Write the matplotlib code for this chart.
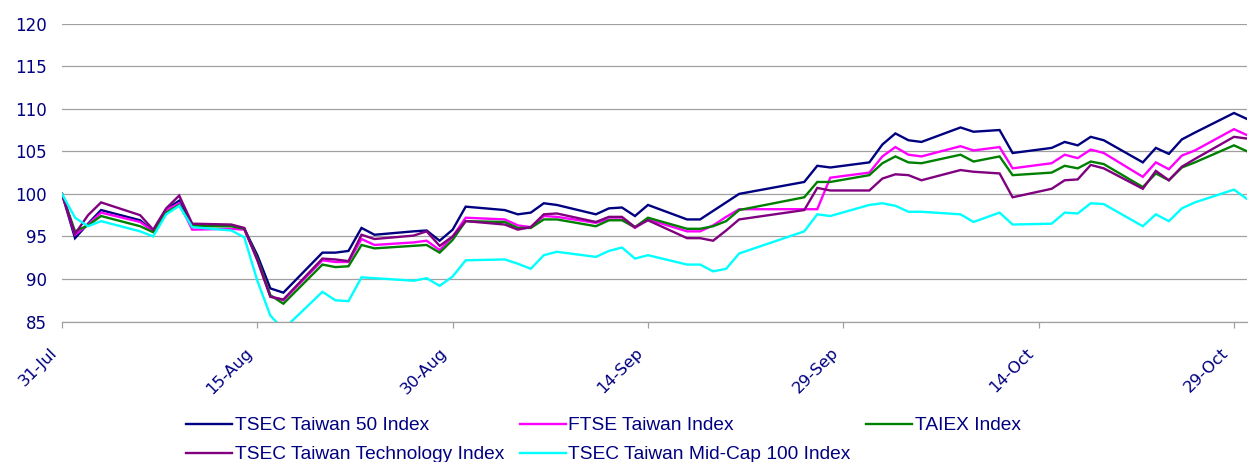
import numpy as np
import pandas as pd
import matplotlib
matplotlib.use("Agg")
import matplotlib.pyplot as plt
import matplotlib.dates as mdates
from matplotlib.transforms import ScaledTranslation

# trading days (2007)
dates = pd.to_datetime([
    "2007-07-31",
    "2007-08-01", "2007-08-02", "2007-08-03", "2007-08-06", "2007-08-07", "2007-08-08",
    "2007-08-09", "2007-08-10", "2007-08-13", "2007-08-14", "2007-08-15", "2007-08-16",
    "2007-08-17", "2007-08-20", "2007-08-21", "2007-08-22", "2007-08-23", "2007-08-24",
    "2007-08-27", "2007-08-28", "2007-08-29", "2007-08-30", "2007-08-31",
    "2007-09-03", "2007-09-04", "2007-09-05", "2007-09-06", "2007-09-07", "2007-09-10",
    "2007-09-11", "2007-09-12", "2007-09-13", "2007-09-14", "2007-09-17", "2007-09-18",
    "2007-09-19", "2007-09-20", "2007-09-21", "2007-09-26", "2007-09-27", "2007-09-28",
    "2007-10-01", "2007-10-02", "2007-10-03", "2007-10-04", "2007-10-05", "2007-10-08",
    "2007-10-09", "2007-10-11", "2007-10-12", "2007-10-15", "2007-10-16", "2007-10-17",
    "2007-10-18", "2007-10-19", "2007-10-22", "2007-10-23", "2007-10-24", "2007-10-25",
    "2007-10-26", "2007-10-29", "2007-10-30",
])

tsec50 = [
    100.0,
    94.8, 96.5, 98.1, 96.9, 95.6, 98.2, 99.2, 96.4, 96.3, 95.9, 92.8, 88.9,
    88.4, 93.1, 93.1, 93.3, 96.0, 95.2, 95.6, 95.7, 94.5, 95.8, 98.5,
    98.1, 97.6, 97.8, 98.9, 98.7, 97.6, 98.3, 98.4, 97.4, 98.7, 97.0, 97.0,
    98.0, 99.0, 100.0, 101.4, 103.3, 103.1,
    103.7, 105.8, 107.1, 106.3, 106.1, 107.8, 107.3, 107.5, 104.8, 105.4, 106.1, 105.7,
    106.7, 106.3, 103.7, 105.4, 104.7, 106.4, 107.2, 109.5, 108.8,
]
ftse = [
    100.0,
    95.2, 96.4, 97.8, 96.7, 95.6, 98.1, 98.9, 95.8, 95.9, 95.8, 92.3, 88.0,
    87.5, 92.2, 92.0, 92.0, 94.7, 94.0, 94.3, 94.5, 93.4, 95.0, 97.2,
    97.0, 96.3, 96.1, 97.4, 97.3, 96.6, 97.0, 97.0, 96.0, 97.0, 95.6, 95.6,
    96.3, 97.3, 98.2, 98.2, 98.2, 101.9,
    102.5, 104.4, 105.5, 104.6, 104.4, 105.6, 105.1, 105.5, 103.0, 103.6, 104.6, 104.2,
    105.2, 104.8, 102.0, 103.7, 102.9, 104.5, 105.1, 107.6, 106.9,
]
taiex = [
    100.0,
    95.6, 96.3, 97.4, 96.2, 95.5, 97.8, 98.7, 96.2, 96.2, 95.9, 92.4, 88.1,
    87.1, 91.7, 91.4, 91.5, 94.0, 93.6, 93.9, 94.0, 93.1, 94.6, 96.8,
    96.7, 96.0, 96.0, 97.0, 97.0, 96.2, 96.9, 96.9, 96.1, 97.2, 95.9, 95.9,
    96.2, 96.8, 98.1, 99.6, 101.4, 101.4,
    102.2, 103.6, 104.4, 103.7, 103.6, 104.6, 103.8, 104.4, 102.2, 102.5, 103.3, 103.0,
    103.8, 103.5, 100.8, 102.4, 101.6, 103.1, 103.7, 105.7, 105.0,
]
tech = [
    100.0,
    95.3, 97.5, 99.0, 97.5, 95.8, 98.3, 99.8, 96.5, 96.4, 96.0, 92.2, 87.9,
    87.6, 92.4, 92.3, 92.1, 95.2, 94.7, 95.1, 95.6, 93.9, 95.0, 96.8,
    96.4, 95.8, 96.1, 97.6, 97.7, 96.7, 97.3, 97.3, 96.1, 96.9, 94.8, 94.8,
    94.5, 95.7, 97.0, 98.1, 100.7, 100.4,
    100.4, 101.8, 102.3, 102.2, 101.6, 102.8, 102.6, 102.4, 99.6, 100.6, 101.6, 101.7,
    103.4, 103.0, 100.6, 102.7, 101.6, 103.2, 104.1, 106.7, 106.5,
]
midcap = [
    100.0,
    97.2, 96.2, 96.8, 95.6, 95.0, 97.6, 98.6, 96.1, 95.7, 94.9, 89.8, 85.7,
    84.1, 88.5, 87.5, 87.4, 90.2, 90.1, 89.8, 90.1, 89.2, 90.3, 92.2,
    92.3, 91.8, 91.2, 92.8, 93.2, 92.6, 93.3, 93.7, 92.4, 92.8, 91.7, 91.7,
    90.9, 91.2, 93.0, 95.6, 97.6, 97.4,
    98.7, 98.9, 98.6, 97.9, 97.9, 97.6, 96.7, 97.8, 96.4, 96.5, 97.8, 97.7,
    98.9, 98.8, 96.2, 97.6, 96.8, 98.3, 99.0, 100.5, 99.4,
]

series_names = ["TSEC Taiwan 50 Index", "FTSE Taiwan Index", "TAIEX Index",
                "TSEC Taiwan Technology Index", "TSEC Taiwan Mid-Cap 100 Index"]
series_colors = ["#000080", "#FF00FF", "#008000", "#800080", "#00FFFF"]
y_ticks = [85, 90, 95, 100, 105, 110, 115, 120]
x_ticks = pd.date_range("2007-07-31", periods=7, freq="15D")

text_col = "#000080"
grid_col = "#a0a0a0"

fig = plt.figure(figsize=(12.5, 4.62), dpi=100)
ax = fig.add_axes([62 / 1250, 1 - 321.6 / 462, 1185 / 1250, 298 / 462])

lines = []
for vals, name, col in zip([tsec50, ftse, taiex, tech, midcap], series_names, series_colors):
    ln, = ax.plot(dates, vals, color=col, lw=1.7, label=name, solid_joinstyle="miter")
    lines.append(ln)

ax.set_ylim(85, 120)
ax.set_xlim(pd.Timestamp("2007-07-31"), pd.Timestamp("2007-10-30"))
ax.set_yticks(y_ticks)
ax.set_xticks(x_ticks)
ax.xaxis.set_major_formatter(mdates.DateFormatter("%d-%b"))

ax.grid(axis="y", color=grid_col, lw=0.9)
ax.set_axisbelow(True)
for s in ["left", "right", "top"]:
    ax.spines[s].set_visible(False)
ax.spines["bottom"].set_color(grid_col)
ax.spines["bottom"].set_linewidth(0.9)

ax.tick_params(axis="y", length=0, pad=11, labelsize=12, labelcolor=text_col)
ax.tick_params(axis="x", length=4, width=0.9, color=grid_col, direction="out",
               pad=13, labelsize=11.8, labelcolor=text_col)
offset = ScaledTranslation(-13 / 100, 0, fig.dpi_scale_trans)
for lab in ax.get_xticklabels():
    lab.set_rotation(45)
    lab.set_ha("right")
    lab.set_va("top")
    lab.set_rotation_mode("anchor")
    lab.set_transform(lab.get_transform() + offset)

# legend: column-first fill, so reorder to get Excel's row layout
order = [0, 3, 1, 4, 2]
leg = fig.legend([lines[i] for i in order], [series_names[i] for i in order],
                 ncol=3, loc="upper left", bbox_to_anchor=(186 / 1250, 1 - 417 / 462),
                 frameon=False, borderpad=0, borderaxespad=0,
                 handlelength=2.4, handletextpad=0.15, columnspacing=0.8,
                 labelspacing=0.6,
                 prop={"family": "Liberation Sans", "size": 13.8})
for t in leg.get_texts():
    t.set_color(text_col)

fig.savefig("out.png", dpi=100)
